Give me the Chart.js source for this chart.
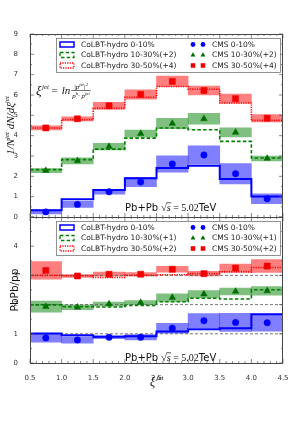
<!DOCTYPE html>
<html>
<head>
<meta charset="utf-8">
<script src="https://cdn.jsdelivr.net/npm/chart.js@4.4.0/dist/chart.umd.min.js"></script>
<style>
  html, body { margin: 0; padding: 0; background: #fff; }
  #wrap { position: relative; width: 298px; height: 421px; }
  canvas { position: absolute; left: 0; top: 0; }
</style>
</head>
<body>
<div id="wrap">
  <canvas id="topChart" width="298" height="421"></canvas>
  <canvas id="botChart" width="298" height="421"></canvas>
</div>
<script>
// bins in xi^jet
const binEdges = [0.5, 1.0, 1.5, 2.0, 2.5, 3.0, 3.5, 4.0, 4.5];
const binCenters = [0.75, 1.25, 1.75, 2.25, 2.75, 3.25, 3.75, 4.25];
const xTicks = [0.5, 1.0, 1.5, 2.0, 2.5, 3.0, 3.5, 4.0, 4.5];
const yTicksTop = [0, 1, 2, 3, 4, 5, 6, 7, 8, 9];
const yTicksBot = [0, 1, 2, 3, 4];

// top panel: 1/N dN/dxi (already shifted by +2 / +4)
const hydroTop0 = [0.33, 0.87, 1.33, 1.90, 2.41, 2.52, 1.87, 1.01];
const hydroTop1 = [2.33, 2.82, 3.34, 3.88, 4.38, 4.29, 3.72, 2.90];
const hydroTop2 = [4.38, 4.79, 5.34, 5.89, 6.42, 6.28, 5.61, 4.75];
const cmsTop0 = [0.25, 0.62, 1.24, 1.72, 2.61, 3.05, 2.13, 0.90];
const cmsTop1 = [2.28, 2.76, 3.46, 4.10, 4.60, 4.83, 4.16, 2.88];
const cmsTop2 = [4.38, 4.83, 5.47, 6.03, 6.67, 6.22, 5.82, 4.86];
const errTop0 = [0.10, 0.15, 0.12, 0.23, 0.40, 0.45, 0.50, 0.24];
const errTop1 = [0.10, 0.15, 0.16, 0.17, 0.25, 0.27, 0.22, 0.12];
const errTop2 = [0.10, 0.10, 0.17, 0.23, 0.26, 0.22, 0.22, 0.18];

// bottom panel: PbPb/pp ratio (shifted by +1 / +2)
const hydroBot0 = [1.01, 0.95, 0.90, 0.92, 1.08, 1.16, 1.19, 1.67];
const hydroBot1 = [1.99, 1.93, 1.92, 1.97, 2.10, 2.22, 2.19, 2.51];
const hydroBot2 = [3.00, 2.99, 2.93, 3.00, 3.02, 3.06, 3.12, 3.27];
const cmsBot0 = [0.86, 0.79, 0.88, 0.88, 1.19, 1.45, 1.39, 1.38];
const cmsBot1 = [1.93, 1.91, 2.02, 2.07, 2.24, 2.36, 2.45, 2.47];
const cmsBot2 = [3.17, 2.98, 3.04, 3.04, 3.21, 3.06, 3.25, 3.32];
const errBot0 = [0.15, 0.11, 0.05, 0.09, 0.17, 0.24, 0.31, 0.29];
const errBot1 = [0.19, 0.08, 0.07, 0.07, 0.13, 0.12, 0.12, 0.15];
const errBot2 = [0.30, 0.05, 0.07, 0.06, 0.10, 0.08, 0.14, 0.22];
const refLines = [1, 2, 3];

const lineColors = ['rgb(0,0,255)', 'rgb(0,128,0)', 'rgb(255,0,0)'];
const bandColors = ['rgba(0,0,255,0.5)', 'rgba(0,128,0,0.5)', 'rgba(255,0,0,0.5)'];
const markColors = ['rgb(0,0,255)', 'rgb(0,110,0)', 'rgb(240,0,0)'];
const markStyles = ['circle', 'triangle', 'rect'];
const markRadius = [3.2, 3.8, 4.3];
const lineDash = [[], [3.5, 2.2], [1.2, 1.2]];
const lineWidth = [2, 1.6, 1.6];

const SANS = "'DejaVu Sans', sans-serif";
const SERIF = "'Liberation Serif', 'DejaVu Serif', serif";

function stepPoints(vals) {
  return binEdges.map((e, i) => ({x: e, y: vals[Math.min(i, vals.length - 1)]}));
}
function bandBars(vals, errs) {
  return binCenters.map((c, i) => ({x: c, y: [vals[i] - errs[i], vals[i] + errs[i]]}));
}
function markerPoints(vals) {
  return binCenters.map((c, i) => ({x: c, y: vals[i]}));
}

function panelDatasets(hydro, cms, errs, withRef) {
  const ds = [];
  for (let k = 0; k < 3; k++) {
    ds.push({
      type: 'bar', data: bandBars(cms[k], errs[k]),
      backgroundColor: bandColors[k], borderWidth: 0,
      grouped: false, barPercentage: 1, categoryPercentage: 1, order: 6
    });
    // horizontal first, then vertical at the next bin edge
    ds.push({
      type: 'line', data: stepPoints(hydro[k]), stepped: 'before',
      borderColor: lineColors[k], borderWidth: lineWidth[k], borderDash: lineDash[k],
      pointRadius: 0, fill: false, order: 3
    });
    ds.push({
      type: 'scatter', data: markerPoints(cms[k]),
      pointStyle: markStyles[k], pointRadius: markRadius[k],
      backgroundColor: markColors[k], borderColor: markColors[k], borderWidth: 0.5, order: 1
    });
  }
  if (withRef) {
    refLines.forEach(v => ds.push({
      type: 'line', data: [{x: binEdges[0], y: v}, {x: binEdges[binEdges.length - 1], y: v}],
      borderColor: '#555', borderWidth: 0.8, borderDash: [3, 2], pointRadius: 0, order: 4
    }));
  }
  return ds;
}

// frame + inward ticks (matplotlib classic look)
function drawFrame(chart, yMinorStep) {
  const {ctx, chartArea: a, scales} = chart;
  ctx.save();
  ctx.strokeStyle = '#444';
  ctx.lineWidth = 1;
  ctx.strokeRect(a.left + 0.5, a.top + 0.5, a.right - a.left - 1, a.bottom - a.top);
  ctx.lineWidth = 0.7;
  ctx.strokeStyle = '#555';
  const xs = scales.x, ys = scales.y;
  ctx.beginPath();
  for (let v = xs.min; v <= xs.max + 1e-6; v += 0.1) {
    const px = xs.getPixelForValue(v);
    const major = Math.abs(v * 2 - Math.round(v * 2)) < 1e-6;
    const len = major ? 4 : 2;
    ctx.moveTo(px, a.bottom); ctx.lineTo(px, a.bottom - len);
    ctx.moveTo(px, a.top); ctx.lineTo(px, a.top + len);
  }
  for (let v = ys.min; v <= ys.max + 1e-6; v += yMinorStep) {
    const py = ys.getPixelForValue(v);
    const major = Math.abs(v - Math.round(v)) < 1e-6;
    const len = major ? 4 : 2;
    ctx.moveTo(a.left, py); ctx.lineTo(a.left + len, py);
    ctx.moveTo(a.right, py); ctx.lineTo(a.right - len, py);
  }
  ctx.stroke();
  ctx.restore();
}

function drawLegend(ctx, top, shift1, shift2) {
  const left = 56, right = 280, h = 34;
  ctx.save();
  ctx.fillStyle = '#fff';
  ctx.fillRect(left, top, right - left, h);
  ctx.strokeStyle = '#777';
  ctx.lineWidth = 0.8;
  ctx.strokeRect(left + 0.5, top + 0.5, right - left, h);
  const rows = [top + 6.5, top + 17, top + 27.5];
  const hydroLabels = ['CoLBT-hydro 0-10%', 'CoLBT-hydro 10-30%' + shift1, 'CoLBT-hydro 30-50%' + shift2];
  const cmsLabels = ['CMS 0-10%', 'CMS 10-30%' + shift1, 'CMS 30-50%' + shift2];
  ctx.font = '7.5px ' + SANS;
  ctx.textBaseline = 'middle';
  ctx.textAlign = 'left';
  for (let k = 0; k < 3; k++) {
    const y = rows[k];
    ctx.strokeStyle = lineColors[k];
    ctx.lineWidth = k === 0 ? 1.5 : 1.3;
    ctx.setLineDash(lineDash[k]);
    ctx.strokeRect(60, y - 2.5, 14, 5);
    ctx.setLineDash([]);
    ctx.fillStyle = '#222';
    ctx.fillText(hydroLabels[k], 81, y + 0.5);
    ctx.fillStyle = markColors[k];
    ctx.strokeStyle = markColors[k];
    ctx.lineWidth = 0.5;
    [193, 203].forEach(x => Chart.helpers.drawPoint(ctx,
      {pointStyle: markStyles[k], radius: markRadius[k] * 0.75, rotation: 0}, x, y));
    ctx.fillStyle = '#222';
    ctx.fillText(cmsLabels[k], 212, y + 0.5);
  }
  ctx.restore();
}

function drawEnergy(ctx, x, baseline) {
  ctx.save();
  ctx.fillStyle = '#111';
  ctx.textBaseline = 'alphabetic';
  ctx.textAlign = 'left';
  ctx.font = '10px ' + SANS;
  ctx.fillText('Pb+Pb ', x, baseline);
  x += ctx.measureText('Pb+Pb ').width;
  ctx.font = '10px ' + SERIF;
  ctx.fillText('\u221A', x, baseline);
  x += ctx.measureText('\u221A').width;
  ctx.font = 'italic 10px ' + SERIF;
  const sw = ctx.measureText('s').width;
  ctx.fillText('s', x, baseline);
  ctx.fillRect(x - 0.5, baseline - 8.5, sw + 1, 0.7);
  x += sw;
  ctx.font = '10px ' + SERIF;
  ctx.fillText(' = 5.02', x, baseline);
  x += ctx.measureText(' = 5.02').width;
  ctx.font = '10px ' + SANS;
  ctx.fillText('TeV', x, baseline);
  ctx.restore();
}

// writes a run of [text, isSup] pieces, returns end x
function drawRun(ctx, x, y, pieces, size) {
  pieces.forEach(([t, sup]) => {
    ctx.font = 'italic ' + (sup ? size * 0.65 : size) + 'px ' + SERIF;
    ctx.fillText(t, x, sup ? y - size * 0.4 : y);
    x += ctx.measureText(t).width;
  });
  return x;
}
function runWidth(ctx, pieces, size) {
  let w = 0;
  pieces.forEach(([t, sup]) => {
    ctx.font = 'italic ' + (sup ? size * 0.65 : size) + 'px ' + SERIF;
    w += ctx.measureText(t).width;
  });
  return w;
}

function drawFormula(ctx) {
  ctx.save();
  ctx.fillStyle = '#111';
  ctx.textBaseline = 'alphabetic';
  ctx.textAlign = 'left';
  let x = 36, y = 95;
  ctx.font = 'italic 13px ' + SERIF;
  ctx.fillText('\u03BE', x, y);
  x += ctx.measureText('\u03BE').width;
  ctx.font = 'italic 7px ' + SERIF;
  ctx.fillText('jet', x + 0.5, y - 6);
  x += ctx.measureText('jet').width + 3;
  ctx.font = '11px ' + SERIF;
  ctx.fillText('=', x, y - 1);
  x += ctx.measureText('=').width + 4;
  ctx.font = 'italic 11px ' + SERIF;
  ctx.fillText('ln', x, y - 1);
  x += ctx.measureText('ln').width + 1;
  // fraction |p_jet|^2 / (p_h . p_jet)
  const num = [['|p', false], ['jet', true], ['|', false], ['2', true]];
  const den = [['p', false], ['h', true], ['\u00B7 p', false], ['jet', true]];
  const fs = 7;
  const wn = runWidth(ctx, num, fs), wd = runWidth(ctx, den, fs);
  const w = Math.max(wn, wd) + 2;
  drawRun(ctx, x + (w - wn) / 2, y - 6.5, num, fs);
  drawRun(ctx, x + (w - wd) / 2, y + 2.5, den, fs);
  ctx.fillRect(x, y - 4.8, w, 0.6);
  ctx.restore();
}

function drawRotatedTitle(ctx, cx, cy, parts) {
  ctx.save();
  ctx.translate(cx, cy);
  ctx.rotate(-Math.PI / 2);
  ctx.fillStyle = '#111';
  ctx.textBaseline = 'middle';
  ctx.textAlign = 'left';
  let total = 0;
  parts.forEach(p => { ctx.font = p.font; total += ctx.measureText(p.t).width; });
  let x = -total / 2;
  parts.forEach(p => {
    ctx.font = p.font;
    ctx.fillText(p.t, x, p.dy || 0);
    x += ctx.measureText(p.t).width;
  });
  ctx.restore();
}

function axisOptions(yMax, yTicks, showX) {
  return {
    x: {
      type: 'linear', min: 0.5, max: 4.5, offset: false, display: showX,
      grid: {display: false}, border: {display: false},
      afterBuildTicks: s => { s.ticks = xTicks.map(v => ({value: v})); },
      afterFit: s => { s.height = showX ? 58 : 0; },
      ticks: {padding: 3, color: '#333', font: {family: SANS, size: 7}, callback: v => v.toFixed(1), maxRotation: 0}
    },
    y: {
      type: 'linear', min: 0, max: yMax,
      grid: {display: false}, border: {display: false},
      afterBuildTicks: s => { s.ticks = yTicks.map(v => ({value: v})); },
      afterFit: s => { s.width = 30; },
      ticks: {padding: 4, color: '#333', font: {family: SANS, size: 7}}
    }
  };
}

const topPlugin = {
  id: 'topDeco',
  afterDraw(chart) {
    const ctx = chart.ctx;
    drawFrame(chart, 0.5);
    drawLegend(ctx, 38, '(+2)', '(+4)');
    drawFormula(ctx);
    drawEnergy(ctx, 125, 211);
    const it = 'italic 11px ' + SERIF, sup = 'italic 7px ' + SERIF;
    drawRotatedTitle(ctx, 11, 125.5, [
      {t: '1/N', font: it}, {t: 'jet', font: sup, dy: -4},
      {t: ' dN/d\u03BE', font: it}, {t: 'jet', font: sup, dy: -4}
    ]);
  }
};

const botPlugin = {
  id: 'botDeco',
  afterDraw(chart) {
    const ctx = chart.ctx;
    drawFrame(chart, 0.5);
    drawLegend(ctx, 221, '(+1)', '(+2)');
    drawEnergy(ctx, 125, 361);
    drawRotatedTitle(ctx, 15, 290, [{t: 'PbPb/pp', font: '10.5px ' + SANS}]);
    ctx.save();
    ctx.fillStyle = '#111';
    ctx.textBaseline = 'alphabetic';
    ctx.font = 'italic 12px ' + SERIF;
    ctx.fillText('\u03BE', 150, 386);
    ctx.font = 'italic 7px ' + SERIF;
    ctx.fillText('jet', 156.5, 380);
    ctx.restore();
  }
};

new Chart(document.getElementById('topChart'), {
  type: 'bar',
  data: {datasets: panelDatasets([hydroTop0, hydroTop1, hydroTop2], [cmsTop0, cmsTop1, cmsTop2],
                                 [errTop0, errTop1, errTop2], false)},
  options: {
    responsive: false, animation: false, devicePixelRatio: 1,
    layout: {padding: {top: 34, right: 15, bottom: 204, left: 0}},
    plugins: {legend: {display: false}, tooltip: {enabled: false}},
    scales: axisOptions(9, yTicksTop, false)
  },
  plugins: [topPlugin]
});

new Chart(document.getElementById('botChart'), {
  type: 'bar',
  data: {datasets: panelDatasets([hydroBot0, hydroBot1, hydroBot2], [cmsBot0, cmsBot1, cmsBot2],
                                 [errBot0, errBot1, errBot2], true)},
  options: {
    responsive: false, animation: false, devicePixelRatio: 1,
    layout: {padding: {top: 217, right: 15, bottom: 0, left: 0}},
    plugins: {legend: {display: false}, tooltip: {enabled: false}},
    scales: axisOptions(5, yTicksBot, true)
  },
  plugins: [botPlugin]
});
</script>
</body>
</html>
